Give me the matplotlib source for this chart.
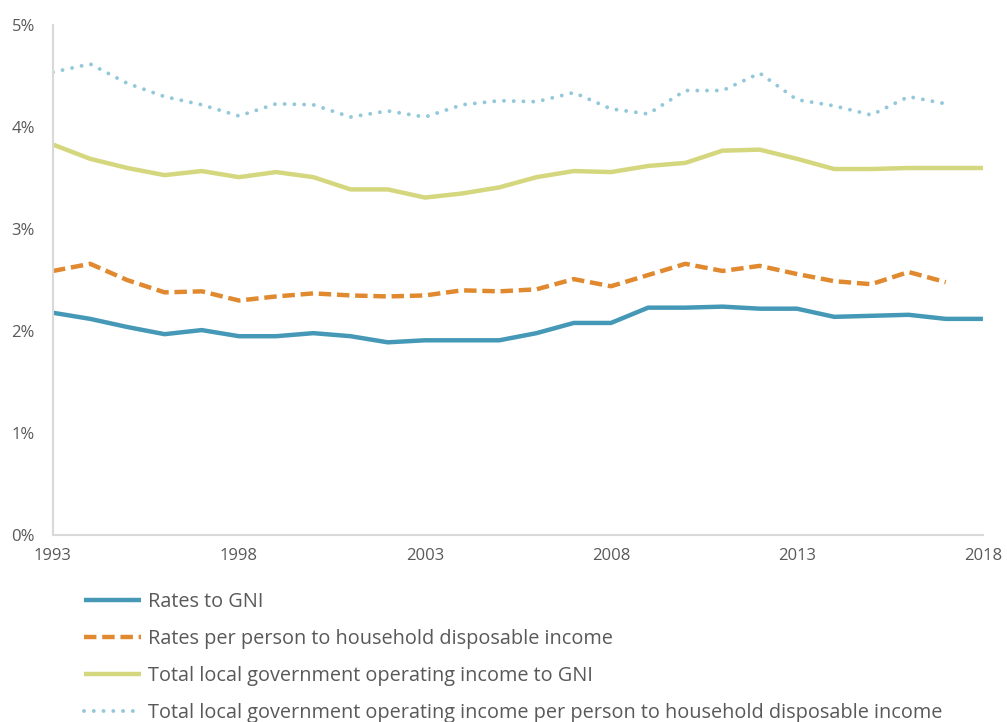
import matplotlib
matplotlib.use("Agg")
import matplotlib.pyplot as plt
from matplotlib.ticker import FuncFormatter

years = list(range(1993, 2019))

rates_gni = [2.18, 2.12, 2.04, 1.97, 2.01, 1.95, 1.95, 1.98, 1.95, 1.89, 1.91, 1.91, 1.91,
             1.98, 2.08, 2.08, 2.23, 2.23, 2.24, 2.22, 2.22, 2.14, 2.15, 2.16, 2.12, 2.12]
rates_hdi = [2.59, 2.66, 2.50, 2.38, 2.39, 2.30, 2.34, 2.37, 2.35, 2.34, 2.35, 2.40, 2.39,
             2.41, 2.51, 2.44, 2.55, 2.66, 2.59, 2.64, 2.56, 2.49, 2.46, 2.58, 2.48]
total_gni = [3.83, 3.69, 3.60, 3.53, 3.57, 3.51, 3.56, 3.51, 3.39, 3.39, 3.31, 3.35, 3.41,
             3.51, 3.57, 3.56, 3.62, 3.65, 3.77, 3.78, 3.69, 3.59, 3.59, 3.60, 3.60, 3.60]
total_hdi = [4.54, 4.62, 4.43, 4.30, 4.22, 4.11, 4.23, 4.22, 4.10, 4.16, 4.10, 4.22, 4.26,
             4.25, 4.34, 4.18, 4.13, 4.36, 4.36, 4.53, 4.27, 4.21, 4.12, 4.30, 4.23]

labels = ["Rates to GNI",
          "Rates per person to household disposable income",
          "Total local government operating income to GNI",
          "Total local government operating income per person to household disposable income"]

plt.rcParams['font.family'] = ['Open Sans', 'DejaVu Sans']
text_col = '#595959'

fig = plt.figure(figsize=(10.07, 7.22), dpi=100)
ax = fig.add_axes([0.0526, 0.259, 0.9235, 0.706])

ax.plot(years, rates_gni, color='#4599b7', lw=3.2, label=labels[0], solid_capstyle='butt')
ax.plot(years[:len(rates_hdi)], rates_hdi, color='#e0892f', lw=3.2, label=labels[1],
        linestyle=(0, (2.8, 1.3)))
ax.plot(years, total_gni, color='#d4d77e', lw=3.2, label=labels[2], solid_capstyle='butt')
ax.plot(years[:len(total_hdi)], total_hdi, color='#93c8da', lw=2.8, label=labels[3],
        linestyle=(0, (0.01, 2.5)), dash_capstyle='round')

ax.set_xlim(1993, 2018)
ax.set_ylim(0, 5)
ax.set_xticks(range(1993, 2019, 5))
ax.set_yticks(range(0, 6))
ax.yaxis.set_major_formatter(FuncFormatter(lambda v, p: f"{int(v)}%"))

for s in ['top', 'right']:
    ax.spines[s].set_visible(False)
ax.spines['left'].set_color('#d9d9d9')
ax.spines['bottom'].set_color('#d9d9d9')
ax.spines['left'].set_linewidth(1.5)
ax.spines['bottom'].set_linewidth(1.5)
ax.tick_params(length=0, labelsize=12, colors=text_col)
ax.tick_params(axis='y', pad=13)
ax.tick_params(axis='x', pad=9)

fig.legend(loc='upper left', bbox_to_anchor=(0.0834, 0.18), frameon=False,
           fontsize=14.3, labelcolor=text_col, handlelength=2.85, handletextpad=0.37,
           labelspacing=0.86, borderaxespad=0, borderpad=0)

fig.savefig('out.png', dpi=100)
